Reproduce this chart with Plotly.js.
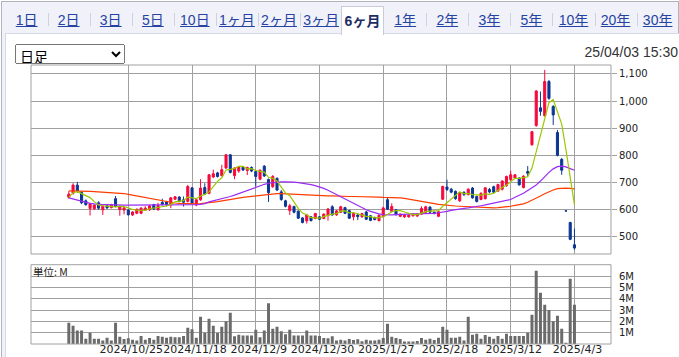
<!DOCTYPE html>
<html>
<head>
<meta charset="utf-8">
<script src="https://cdn.plot.ly/plotly-3.0.1.min.js"></script>
<style>
  html, body { margin:0; padding:0; width:679px; height:357px; overflow:hidden; background:#fff; }
  #frame { position:absolute; left:1px; top:1px; width:678px; height:370px; box-sizing:border-box;
           border:1px solid #b3b3bd; background:#f1f2f9; }
  #panel { position:absolute; left:5px; top:33px; width:690px; height:340px; box-sizing:border-box;
           background:#fff; border-top:1px solid #d6d8e6; border-left:1px solid #d6d8e6; }
  .tab { position:absolute; top:12px; font-family:"Liberation Sans","Noto Sans CJK JP",sans-serif;
         font-size:14px; line-height:16px; color:#2443a3; text-decoration:underline; white-space:nowrap;
         transform:translateX(-50%); }
  .sep { position:absolute; top:13px; width:1px; height:13px; background:#cfd1dc; }
  #active { position:absolute; left:341px; top:6px; width:43px; height:29px; box-sizing:border-box;
            background:#fff; border:1px solid #c9cbda; border-bottom:none; z-index:3;
            font-family:"Liberation Sans","Noto Sans CJK JP",sans-serif; font-size:14px; font-weight:bold;
            color:#1d2c63; text-align:center; line-height:16px; padding-top:6px; }
  #sel { position:absolute; left:15px; top:44px; width:110px; height:20px; font-size:14px;
         font-family:"Noto Sans CJK JP",sans-serif; z-index:4; }
  #stamp { position:absolute; right:1px; top:44px; font-family:"Liberation Sans",sans-serif; font-size:14px;
           color:#333; z-index:4; }
  #unit { position:absolute; left:33px; top:266px; font-family:"Noto Sans CJK JP","Liberation Sans",sans-serif;
          font-size:10.5px; color:#222; z-index:4; line-height:12px; }
  #chart { position:absolute; left:0; top:0; width:679px; height:357px; z-index:2; }
</style>
</head>
<body>
<div id="frame"></div>
<div id="panel"></div>
<div id="tabs"></div>
<select id="sel"><option>日足</option></select>
<div id="stamp">25/04/03 15:30</div>
<div id="unit">単位: M</div>
<div id="chart"></div>
<script>
// ---- tab labels ----
var tabLabels = ['1日','2日','3日','5日','10日','1ヶ月','2ヶ月','3ヶ月','6ヶ月','1年','2年','3年','5年','10年','20年','30年'];
var activeTab = 8;

// ---- trading dates (categories) ----
var dates = [
 '2024/10/4','2024/10/7','2024/10/8','2024/10/9','2024/10/10','2024/10/11','2024/10/15','2024/10/16','2024/10/17','2024/10/18',
 '2024/10/21','2024/10/22','2024/10/23','2024/10/24','2024/10/25','2024/10/28','2024/10/29','2024/10/30','2024/10/31',
 '2024/11/1','2024/11/5','2024/11/6','2024/11/7','2024/11/8','2024/11/11','2024/11/12','2024/11/13','2024/11/14','2024/11/15',
 '2024/11/18','2024/11/19','2024/11/20','2024/11/21','2024/11/22','2024/11/25','2024/11/26','2024/11/27','2024/11/28','2024/11/29',
 '2024/12/2','2024/12/3','2024/12/4','2024/12/5','2024/12/6','2024/12/9','2024/12/10','2024/12/11','2024/12/12','2024/12/13',
 '2024/12/16','2024/12/17','2024/12/18','2024/12/19','2024/12/20','2024/12/23','2024/12/24','2024/12/25','2024/12/26','2024/12/27','2024/12/30',
 '2025/1/6','2025/1/7','2025/1/8','2025/1/9','2025/1/10','2025/1/14','2025/1/15','2025/1/16','2025/1/17',
 '2025/1/20','2025/1/21','2025/1/22','2025/1/23','2025/1/24','2025/1/27','2025/1/28','2025/1/29','2025/1/30','2025/1/31',
 '2025/2/3','2025/2/4','2025/2/5','2025/2/6','2025/2/7','2025/2/10','2025/2/12','2025/2/13','2025/2/14',
 '2025/2/17','2025/2/18','2025/2/19','2025/2/20','2025/2/21','2025/2/25','2025/2/26','2025/2/27','2025/2/28',
 '2025/3/3','2025/3/4','2025/3/5','2025/3/6','2025/3/7','2025/3/10','2025/3/11','2025/3/12','2025/3/13','2025/3/14',
 '2025/3/17','2025/3/18','2025/3/19','2025/3/21','2025/3/24','2025/3/25','2025/3/26','2025/3/27','2025/3/28','2025/3/31',
 '2025/4/1','2025/4/2','2025/4/3'
];
var tickDates = ['2024/10/25','2024/11/18','2024/12/9','2024/12/30','2025/1/27','2025/2/18','2025/3/12','2025/4/3'];

var open = [
 645,660,690,663,632,604,603,625,599,614, 607,640,600,598,598,580,586,586,598,599,
 618,599,626,628,617,638,646,636,630,680, 617,636,681,660,720,735,725,753,802,725,
 742,756,744,755,740,712,760,711,684,715, 665,632,596,611,594,569,558,573,567,573,
 567,578,610,580,590,607,596,573,580,573, 591,577,570,559,574,636,593,599,575,573,
 573,577,576,583,590,609,590,575,638,683, 675,667,632,663,655,679,648,637,640,674,
 684,668,675,688,710,716,716,681,740,839, 910,975,946,1072,980,884,785,595,552,470];
var high = [
 668,697,702,668,637,625,620,630,615,617, 621,650,616,609,601,594,604,609,612,617,
 621,625,640,632,646,650,649,648,691,683, 640,712,697,731,747,739,765,803,803,756,
 760,760,758,759,745,748,764,714,727,718, 672,636,621,614,597,572,584,576,588,576,
 586,605,616,598,614,610,599,588,586,588, 595,580,574,582,610,646,623,602,586,583,
 582,586,587,612,614,612,593,595,688,710, 680,670,666,668,678,683,651,663,683,680,
 688,695,708,725,743,731,719,726,760,890, 1040,1035,1115,1078,985,893,790,595,555,530];
var low = [
 640,655,662,620,614,578,598,600,580,603, 604,608,577,582,577,576,583,583,595,595,
 598,596,615,612,605,635,627,611,626,620, 612,632,653,656,716,718,722,750,733,712,
 735,742,727,738,685,708,720,628,680,668, 632,608,580,586,565,549,548,556,564,561,
 564,559,577,577,587,583,565,560,561,570, 561,557,560,556,571,598,590,578,572,569,
 570,574,573,580,586,586,582,572,635,668, 660,636,628,650,652,640,626,634,637,660,
 660,665,670,684,706,712,688,678,722,835, 905,946,943,1005,912,796,728,595,487,452];
var close = [
 657,690,668,625,618,620,616,605,612,606, 618,611,612,606,581,591,601,605,605,613,
 602,615,619,618,643,647,630,627,685,623, 636,679,657,728,732,722,747,802,737,753,
 757,746,755,742,722,745,724,662,722,672, 637,612,614,590,568,552,580,559,585,564,
 583,602,580,595,610,586,568,585,574,585, 564,560,563,579,606,601,611,581,583,579,
 579,583,583,604,610,590,585,592,685,674, 664,640,663,655,675,643,630,660,680,665,
 664,692,705,722,728,728,691,723,734,887, 1037,962,1072,1010,949,800,745,595,490,458];

var ma5 = [
 645,662,666,659,652,644,629,617,614,612, 611,610,612,611,606,600,598,597,597,603,
 605,608,611,613,619,628,631,633,646,642, 640,650,656,665,686,704,717,746,748,752,
 759,759,750,751,744,742,738,719,715,705, 683,661,651,625,604,587,581,570,569,568,
 574,579,583,585,594,595,588,589,585,580, 575,574,569,570,574,582,592,596,596,591,
 587,581,581,586,592,594,594,596,612,625, 640,651,665,659,659,655,653,653,658,656,
 660,672,681,690,702,715,715,718,721,753, 814,869,938,994,1006,959,915,820,716,618];
var ma25 = [
 643,639,633,629,626,623,621,619,618,618, 617,617,617,616,616,616,616,616,616,616,
 617,617,617,617,617,617,617,617,617,618, 618,619,622,628,632,635,638,643,648,653,
 659,665,671,677,683,688,693,697,699,701, 702,702,702,701,699,697,695,692,688,684,
 678,671,663,655,646,637,629,621,613,606, 599,593,588,584,581,580,580,581,581,582,
 583,584,584,584,585,585,586,588,590,593, 597,600,602,604,606,608,611,614,617,620,
 623,626,629,632,637,645,652,660,670,680, 690,705,722,737,750,758,760,757,751,745];
var ma75 = [
 669,669,669,668,668,667,666,665,665,664, 664,663,662,659,656,653,650,647,645,643,
 640,637,633,629,626,624,623,622,621,621, 621,622,623,625,627,629,632,635,638,641,
 643,645,647,649,651,653,655,657,658,659, 659,658,657,656,655,654,653,652,652,651,
 651,650,650,649,649,649,648,648,648,647, 647,647,646,646,645,645,644,644,643,641,
 639,636,633,630,628,625,622,619,617,615, 614,613,612,611,610,609,608,607,606,606,
 606,607,608,610,612,615,618,621,627,634, 642,650,658,666,672,677,679,679,678,676];

var volumeM = [
 1.88,1.62,1.2,1.2,0.47,1.0,0.47,0.47,0.32,0.56, 0.32,1.88,0.65,0.44,0.5,0.38,0.32,0.7,0.38,0.53,
 0.38,0.7,0.65,0.56,0.65,0.6,0.6,0.7,1.44,1.3, 0.56,2.4,1.0,2.24,1.62,0.97,1.53,2.0,2.76,0.68,
 0.82,0.74,0.74,0.74,1.26,0.59,1.2,3.59,1.35,1.53, 1.12,0.85,1.26,0.74,0.74,0.74,1.2,0.74,0.74,0.7,
 0.53,0.5,0.68,0.32,0.38,0.3,0.44,0.35,0.41,0.24, 0.38,0.32,0.32,0.38,0.53,1.79,0.65,0.53,0.44,0.21,
 0.21,0.21,0.26,0.53,0.38,0.47,0.35,0.56,1.53,1.26, 0.56,0.56,0.65,0.32,2.41,0.82,0.91,0.47,0.79,0.65,
 0.47,0.7,0.47,0.91,0.7,0.7,0.7,0.7,1.0,2.59, 6.47,4.53,3.47,3.0,2.0,2.5,1.35,0.12,5.76,3.47];

var priceTicks = [500,600,700,800,900,1000,1100];
var volTicks = [1,2,3,4,5,6];
var volTickText = ['1M','2M','3M','4M','5M','6M'];

// ---- tabs (HTML) ----
(function(){
  var tabs = document.getElementById('tabs');
  tabLabels.forEach(function(t, i){
    var cx = 26.6 + 42.07 * i;
    if (i === activeTab) {
      var a = document.createElement('div'); a.id = 'active'; a.textContent = t; tabs.appendChild(a);
    } else {
      var d = document.createElement('div'); d.className = 'tab'; d.style.left = cx + 'px'; d.textContent = t;
      tabs.appendChild(d);
    }
    if (i < tabLabels.length - 1 && i !== activeTab - 1 && i !== activeTab) {
      var s = document.createElement('div'); s.className = 'sep'; s.style.left = Math.round(cx + 21) + 'px';
      tabs.appendChild(s);
    }
  });
})();

var grid = '#a0a0a0';
var traces = [
  { type:'candlestick', x:dates, open:open, high:high, low:low, close:close, xaxis:'x', yaxis:'y',
    increasing:{line:{color:'#f50a3c', width:1}, fillcolor:'#f50a3c'},
    decreasing:{line:{color:'#0b3793', width:1}, fillcolor:'#0b3793'},
    hoverinfo:'skip' },
  { type:'scatter', mode:'lines', x:dates, y:ma75, xaxis:'x', yaxis:'y', line:{color:'#ff3c00', width:1.2}, hoverinfo:'skip' },
  { type:'scatter', mode:'lines', x:dates, y:ma25, xaxis:'x', yaxis:'y', line:{color:'#9a2cf5', width:1.2}, hoverinfo:'skip' },
  { type:'scatter', mode:'lines', x:dates, y:ma5, xaxis:'x', yaxis:'y', line:{color:'#9cc700', width:1.2}, hoverinfo:'skip' },
  { type:'bar', x:dates, y:volumeM, xaxis:'x', yaxis:'y2', marker:{color:'#6b6b6b', line:{width:0}}, hoverinfo:'skip' }
];

var layout = {
  width:679, height:357,
  margin:{l:31, r:68, t:65, b:13, pad:0},
  paper_bgcolor:'rgba(0,0,0,0)', plot_bgcolor:'#ffffff',
  showlegend:false, bargap:0.3,
  font:{family:'DejaVu Sans', size:11, color:'#222'},
  xaxis:{type:'category', range:[-8.9,127.6], anchor:'y2', tickmode:'array', tickvals:tickDates, ticktext:tickDates,
         showgrid:true, gridcolor:grid, gridwidth:1, ticks:'', showline:false, zeroline:false,
         rangeslider:{visible:false}, tickfont:{family:'DejaVu Sans', size:11, color:'#222'},
         ticklabelshift:3, ticklabelstandoff:-3, tickangle:0},
  yaxis:{domain:[0.3226,1], range:[436,1133], side:'right', tickmode:'array', tickvals:priceTicks, tickformat:',d',
         ticks:'outside', ticklen:5, tickcolor:grid, showgrid:true, gridcolor:grid, gridwidth:1, zeroline:false, showline:false,
         tickfont:{family:'DejaVu Sans', size:10, color:'#222'}},
  yaxis2:{domain:[0,0.2842], range:[0,7], side:'right', tickmode:'array', tickvals:volTicks, ticktext:volTickText,
          ticks:'outside', ticklen:5, tickcolor:'rgba(0,0,0,0)', showgrid:true, gridcolor:grid, gridwidth:1,
          zeroline:false, showline:false, tickfont:{family:'DejaVu Sans', size:10, color:'#222'}},
  shapes:[
    {type:'rect', xref:'paper', yref:'paper', x0:0, x1:1, y0:0.3226, y1:1, line:{color:grid, width:1}},
    {type:'rect', xref:'paper', yref:'paper', x0:0, x1:1, y0:0, y1:0.2842, line:{color:grid, width:1}}
  ]
};

Plotly.newPlot('chart', traces, layout, {staticPlot:true, displayModeBar:false});
</script>
</body>
</html>
